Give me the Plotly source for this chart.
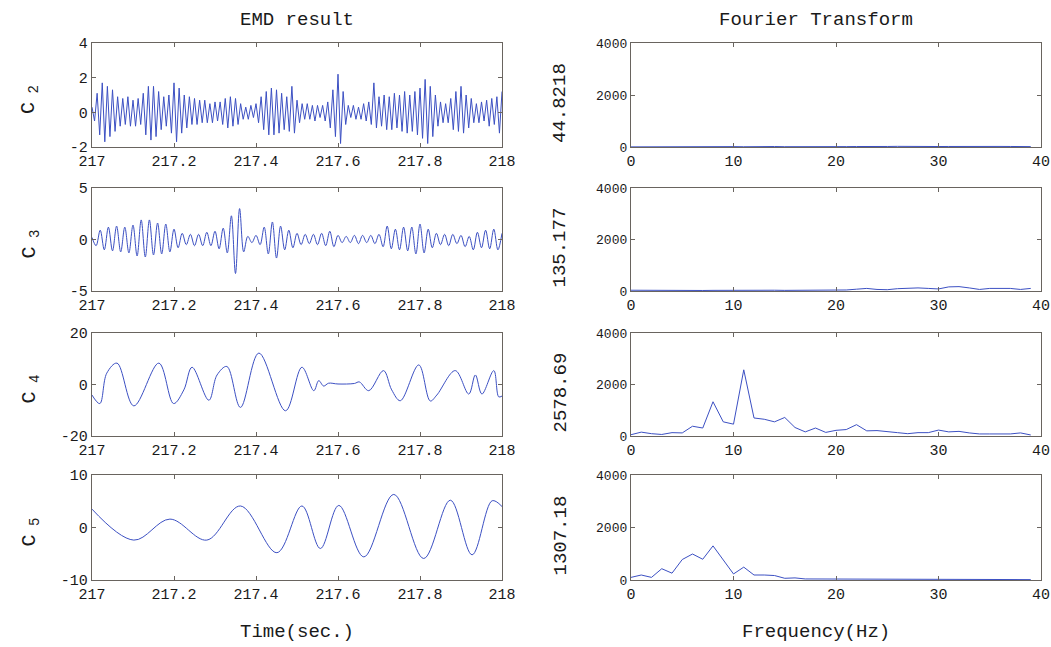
import numpy as np
import plotly.graph_objects as go

# ---------------------------------------------------------------- data
# IMF C2: successive extrema (alternating peak / trough), evenly spaced over 217-218 s
c2_extrema = [
    0.3, -0.5, 1.1, -1.3, 1.7, -1.7, 1.5, -1.4, 1.3, -1.1,
    0.9, -0.8, 0.8, -0.7, 0.9, -0.8, 0.7, -0.8, 0.8, -0.7,
    1.1, -1.3, 1.5, -1.6, 1.5, -1.4, 1.2, -1.0, 0.9, -0.8,
    1.0, -1.2, 1.7, -1.7, 1.4, -1.2, 1.0, -0.9, 0.9, -0.7,
    0.8, -0.7, 0.7, -0.6, 0.7, -0.6, 0.5, -0.6, 0.6, -0.5,
    0.6, -0.7, 0.8, -0.9, 0.9, -0.8, 0.8, -0.7, 0.5, -0.4,
    0.3, -0.4, 0.4, -0.3, 0.5, -0.6, 0.9, -1.0, 1.2, -1.3,
    1.4, -1.3, 1.3, -1.2, 1.1, -1.0, 0.9, -1.1, 1.5, -1.2,
    0.7, -0.6, 0.5, -0.4, 0.5, -0.4, 0.4, -0.5, 0.4, -0.3,
    0.4, -0.5, 0.6, -0.9, 1.3, -1.4, 2.2, -1.8, 1.2, -0.7,
    0.4, -0.3, 0.4, -0.4, 0.3, -0.4, 0.5, -0.5, 0.6, -0.7,
    1.7, -0.9, 0.9, -0.8, 1.0, -1.0, 0.9, -1.0, 1.1, -0.9,
    1.0, -1.1, 1.2, -1.2, 1.0, -1.1, 1.2, -1.3, 1.4, -1.5,
    1.9, -1.8, 1.5, -1.4, 1.0, -0.8, 0.6, -0.6, 0.5, -0.6,
    0.8, -1.0, 1.2, -1.1, 1.5, -1.2, 1.0, -0.9, 0.8, -0.6,
    0.5, -0.6, 0.6, -0.5, 0.7, -0.8, 0.8, -0.7, 0.9, -1.2,
    1.2,
]

# IMF C3: successive extrema, evenly spaced
c3_extrema = [
    0.2, -0.6, 0.9, -1.0, 1.2, -1.1, 1.3, -1.2, 1.2, -1.3,
    1.4, -1.6, 1.9, -1.7, 1.9, -1.5, 1.6, -1.4, 1.5, -1.2,
    1.0, -0.8, 0.6, -0.5, 0.5, -0.6, 0.5, -0.6, 0.7, -0.6,
    0.8, -0.9, 1.1, -1.3, 2.3, -3.3, 3.0, -1.2, 0.3, -0.3,
    0.4, -0.5, 1.2, -1.4, 1.7, -1.8, 1.3, -1.0, 0.9, -0.8,
    0.6, -0.5, 0.5, -0.4, 0.5, -0.5, 0.6, -0.6, 0.8, -0.7,
    0.4, -0.3, 0.3, -0.3, 0.4, -0.4, 0.4, -0.3, 0.4, -0.4,
    0.5, -0.7, 1.3, -0.9, 1.0, -1.0, 1.2, -1.1, 1.2, -1.4,
    1.5, -1.3, 1.0, -0.8, 0.6, -0.5, 0.5, -0.6, 0.5, -0.4,
    0.4, -0.7, 0.3, -1.0, 0.7, -0.8, 0.9, -0.9, 1.0, -1.0,
    0.6,
]

# IMF C4: turning points (time, value)
c4_time = [217.000, 217.019, 217.036, 217.061, 217.102, 217.163, 217.199, 217.224,
           217.244, 217.285, 217.305, 217.329, 217.362, 217.407, 217.472, 217.512,
           217.541, 217.553, 217.565, 217.577, 217.600, 217.640, 217.652, 217.675,
           217.711, 217.731, 217.752, 217.797, 217.825, 217.841, 217.886, 217.919,
           217.935, 217.951, 217.980, 217.992, 218.000]
c4_value = [-4.1, -7.4, 4.4, 8.3, -8.3, 8.3, -7.4, -2.1,
            6.7, -6.1, 3.7, 7.0, -8.9, 12.2, -10.2, 6.7,
            -2.4, 1.5, -0.6, 0.5, 0.2, 0.4, 1.0, -2.4,
            5.4, -2.1, -6.3, 7.6, -6.4, -4.1, 5.4, -3.7,
            3.7, -3.7, 5.4, -4.8, -4.5]

# IMF C5: turning points (time, value)
c5_time = [217.000, 217.102, 217.190, 217.280, 217.362, 217.451, 217.512, 217.557,
           217.602, 217.663, 217.736, 217.809, 217.874, 217.927, 217.976, 218.000]
c5_value = [3.5, -2.4, 1.6, -2.4, 4.1, -4.8, 4.1, -4.0,
            4.2, -5.6, 6.3, -5.9, 5.2, -5.2, 5.1, 4.0]

# Fourier amplitude spectra, 1 Hz bins
freq = list(range(40))
fft_c2 = [5, 8, 12, 20, 15, 10, 12, 18, 22, 25, 15, 10, 20, 22, 18, 12, 8, 15, 20, 12,
          10, 15, 18, 12, 10, 20, 25, 30, 28, 22, 18, 20, 25, 35, 40, 30, 22, 20, 25, 15]
fft_c3 = [30, 25, 20, 20, 25, 20, 15, 20, 25, 30, 30, 25, 20, 25, 30, 25, 30, 25, 25, 30,
          25, 40, 70, 100, 60, 50, 90, 110, 120, 100, 80, 160, 170, 120, 60, 100, 110, 100, 60, 100]
fft_c4 = [50, 150, 90, 60, 130, 120, 380, 310, 1330, 550, 460, 2570, 700, 650, 550, 720,
          330, 160, 310, 140, 220, 250, 440, 200, 210, 160, 130, 90, 130, 130,
          230, 160, 180, 120, 80, 80, 80, 80, 120, 40]
fft_c5 = [100, 190, 100, 430, 260, 780, 990, 790, 1300, 750, 230, 490, 190, 190, 170, 65,
          80, 40, 40, 25, 20, 15, 15, 15, 15, 15, 15, 15, 15, 15,
          15, 15, 15, 15, 15, 15, 15, 15, 15, 15]

imf_labels = ["C<sub> 2</sub>", "C<sub> 3</sub>", "C<sub> 4</sub>", "C<sub> 5</sub>"]
fft_labels = ["44.8218", "135.177", "2578.69", "1307.18"]
imf_ranges = [(-2, 4), (-5, 5), (-20, 20), (-10, 10)]
imf_ticks = [[-2, 0, 2, 4], [-5, 0, 5], [-20, 0, 20], [-10, 0, 10]]
time_ticks = [217, 217.2, 217.4, 217.6, 217.8, 218]
time_ticktext = ["217", "217.2", "217.4", "217.6", "217.8", "218"]
freq_ticks = [0, 10, 20, 30, 40]
amp_ticks = [0, 2000, 4000]

# ---------------------------------------------------------------- style
W, H = 1051, 647
FONT = "Liberation Mono"
LINE = "rgb(60,80,195)"
FRAME = "rgb(105,100,95)"
TXT = "#1a1a1a"

left_px = (92, 502)
right_px = (631, 1041)
rows_px = [(43, 147), (188, 291), (333, 436), (475, 580)]

def xdom(px):
    return [px[0] / W, px[1] / W]

def ydom(px):
    return [1 - px[1] / H, 1 - px[0] / H]

fig = go.Figure()

t2 = 217 + np.arange(len(c2_extrema)) / (len(c2_extrema) - 1)
t3 = 217 + np.arange(len(c3_extrema)) / (len(c3_extrema) - 1)
imf_series = [
    (t2, c2_extrema, "linear"),
    (t3, c3_extrema, "spline"),
    (c4_time, c4_value, "spline"),
    (c5_time, c5_value, "spline"),
]
fft_series = [fft_c2, fft_c3, fft_c4, fft_c5]

annotations = []
axis_common = dict(
    showline=True, mirror="allticks", linecolor=FRAME, linewidth=1.3,
    ticks="inside", ticklen=4, tickcolor=FRAME, tickwidth=1,
    showgrid=False, zeroline=False, automargin=False,
    tickfont=dict(family=FONT, size=15, color=TXT),
)

for i in range(4):
    xa_l = 2 * i + 1
    xa_r = 2 * i + 2
    xs_l = "x" if xa_l == 1 else f"x{xa_l}"
    ys_l = "y" if xa_l == 1 else f"y{xa_l}"
    xs_r = f"x{xa_r}"
    ys_r = f"y{xa_r}"

    # left column: IMF time series
    tx, vals, shape = imf_series[i]
    fig.add_trace(go.Scatter(
        x=tx, y=vals, mode="lines", xaxis=xs_l, yaxis=ys_l,
        line=dict(color=LINE, width=1, shape=shape, smoothing=1.0),
        showlegend=False, hoverinfo="skip",
    ))
    # right column: amplitude spectrum
    fig.add_trace(go.Scatter(
        x=freq, y=fft_series[i], mode="lines", xaxis=xs_r, yaxis=ys_r,
        line=dict(color=LINE, width=1),
        showlegend=False, hoverinfo="skip",
    ))

    kx = "xaxis" if xa_l == 1 else f"xaxis{xa_l}"
    ky = "yaxis" if xa_l == 1 else f"yaxis{xa_l}"
    fig.layout[kx] = dict(
        domain=xdom(left_px), anchor=ys_l, range=[217, 218],
        tickvals=time_ticks, ticktext=time_ticktext, **axis_common,
    )
    fig.layout[ky] = dict(
        domain=ydom(rows_px[i]), anchor=xs_l, range=list(imf_ranges[i]),
        tickvals=imf_ticks[i], ticktext=[str(v) for v in imf_ticks[i]],
        **axis_common,
    )
    fig.layout[f"xaxis{xa_r}"] = dict(
        domain=xdom(right_px), anchor=ys_r, range=[0, 40],
        tickvals=freq_ticks, ticktext=[str(v) for v in freq_ticks], **axis_common,
    )
    amp_axis = dict(axis_common)
    amp_axis["tickfont"] = dict(family=FONT, size=13, color=TXT)
    fig.layout[f"yaxis{xa_r}"] = dict(
        domain=ydom(rows_px[i]), anchor=xs_r, range=[0, 4000],
        tickvals=amp_ticks, ticktext=[str(v) for v in amp_ticks], **amp_axis,
    )

    yc = 1 - (rows_px[i][0] + rows_px[i][1]) / 2 / H
    annotations.append(dict(
        text=imf_labels[i], xref="paper", yref="paper", x=30 / W, y=yc - 5 / H,
        xanchor="center", yanchor="middle", textangle=-90, showarrow=False,
        font=dict(family=FONT, size=20, color=TXT),
    ))
    annotations.append(dict(
        text=fft_labels[i], xref="paper", yref="paper", x=560 / W, y=yc - 8 / H,
        xanchor="center", yanchor="middle", textangle=-90, showarrow=False,
        font=dict(family=FONT, size=19, color=TXT),
    ))

annotations += [
    dict(text="EMD result", xref="paper", yref="paper", x=297 / W, y=1 - 20 / H,
         xanchor="center", yanchor="middle", showarrow=False,
         font=dict(family=FONT, size=19, color=TXT)),
    dict(text="Fourier Transform", xref="paper", yref="paper", x=816 / W, y=1 - 20 / H,
         xanchor="center", yanchor="middle", showarrow=False,
         font=dict(family=FONT, size=19, color=TXT)),
    dict(text="Time(sec.)", xref="paper", yref="paper", x=297 / W, y=1 - 632 / H,
         xanchor="center", yanchor="middle", showarrow=False,
         font=dict(family=FONT, size=19, color=TXT)),
    dict(text="Frequency(Hz)", xref="paper", yref="paper", x=816 / W, y=1 - 632 / H,
         xanchor="center", yanchor="middle", showarrow=False,
         font=dict(family=FONT, size=19, color=TXT)),
]

fig.update_layout(
    width=W, height=H,
    margin=dict(l=0, r=0, t=0, b=0, pad=0, autoexpand=False),
    paper_bgcolor="white", plot_bgcolor="white",
    annotations=annotations,
    showlegend=False,
)

fig.write_html("out.html")
